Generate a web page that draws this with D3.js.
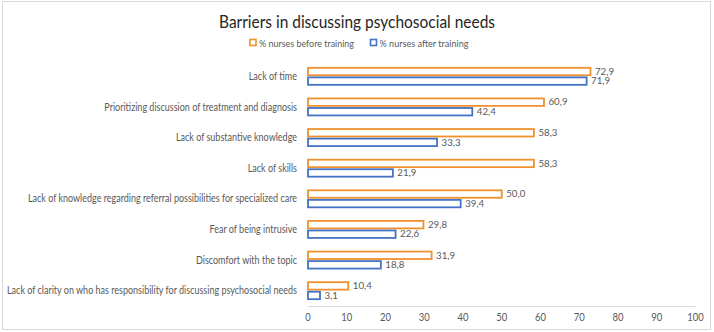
<!DOCTYPE html>
<html>
<head>
<meta charset="utf-8">
<script src="https://cdn.jsdelivr.net/npm/d3@7"></script>
<style>
  html, body { margin: 0; padding: 0; background: #fff; }
  svg { display: block; }
</style>
</head>
<body>
<svg id="chart" width="714" height="332"></svg>
<script>
const categories = [
  "Lack of time",
  "Prioritizing discussion of treatment and diagnosis",
  "Lack of substantive knowledge",
  "Lack of skills",
  "Lack of knowledge regarding referral possibilities for specialized care",
  "Fear of being intrusive",
  "Discomfort with the topic",
  "Lack of clarity on who has responsibility for discussing psychosocial needs"
];
const seriesNames = ["% nurses before training", "% nurses after training"];
const beforeValues = [72.9, 60.9, 58.3, 58.3, 50.0, 29.8, 31.9, 10.4];
const afterValues  = [71.9, 42.4, 33.3, 21.9, 39.4, 22.6, 18.8, 3.1];
const xTicks = [0, 10, 20, 30, 40, 50, 60, 70, 80, 90, 100];
const titleText = "Barriers in discussing psychosocial needs";

const colors = ["#F0912F", "#4472C4"];
const font = "Lato, 'Open Sans', sans-serif";
const textColor = "#595959";

const svg = d3.select("#chart");

// condense text horizontally by a factor (emulates a narrow font)
function condense(sel, factor) {
  sel.each(function () {
    const w = this.getComputedTextLength();
    d3.select(this).attr("textLength", w * factor).attr("lengthAdjust", "spacingAndGlyphs");
  });
}

svg.append("rect").attr("x", 2.5).attr("y", 1.5).attr("width", 708).attr("height", 328)
  .attr("fill", "#fff").attr("stroke", "#d9d9d9").attr("stroke-width", 1);

const title = svg.append("text").attr("x", 357).attr("y", 28).attr("text-anchor", "middle")
  .attr("font-family", font).attr("font-size", 17.5).attr("fill", "#262626")
  .text(titleText);
condense(title, 276 / title.node().getComputedTextLength());

// legend
const legendItems = [
  {x: 249.5, name: seriesNames[0], c: colors[0], w: 95},
  {x: 370, name: seriesNames[1], c: colors[1], w: 89}
];
const lg = svg.append("g");
legendItems.forEach(d => {
  lg.append("rect").attr("x", d.x + 0.5).attr("y", 39.5).attr("width", 6).attr("height", 6)
    .attr("fill", "#fff").attr("stroke", d.c).attr("stroke-width", 1.6);
  const t = lg.append("text").attr("x", d.x + 9.5).attr("y", 46.5).attr("font-family", font)
    .attr("font-size", 10).attr("fill", textColor).text(d.name);
  condense(t, d.w / t.node().getComputedTextLength());
});

const x = d3.scaleLinear().domain([0, 100]).range([307.5, 695]);
const y = d3.scaleBand().domain(categories).range([61, 306]);
const sub = d3.scaleBand().domain([0, 1]).range([0, 17]).paddingInner(0.22);

// axis
const axis = d3.axisBottom(x).tickValues(xTicks).tickSize(0).tickPadding(8);
const ag = svg.append("g").attr("transform", "translate(0,306)").call(axis);
ag.select(".domain").attr("stroke", "#d9d9d9");
ag.selectAll("text").attr("font-family", font).attr("font-size", 10.5).attr("fill", textColor)
  .call(condense, 0.9);

const data = categories.map((c, i) => ({c, vals: [beforeValues[i], afterValues[i]]}));
const groups = svg.append("g").selectAll("g").data(data).join("g")
  .attr("transform", d => `translate(0,${y(d.c) + y.bandwidth() / 2 - 8.5})`);

groups.selectAll("rect").data(d => d.vals.map((v, k) => ({v, k}))).join("rect")
  .attr("x", x(0) + 0.5)
  .attr("y", d => sub(d.k))
  .attr("width", d => x(d.v) - x(0))
  .attr("height", sub.bandwidth())
  .attr("fill", "#fff")
  .attr("stroke", d => colors[d.k])
  .attr("stroke-width", 1.8);

groups.selectAll("text.val").data(d => d.vals.map((v, k) => ({v, k}))).join("text")
  .attr("class", "val")
  .attr("x", d => x(d.v) + 5)
  .attr("y", d => sub(d.k) + sub.bandwidth() / 2 + 3.2)
  .attr("font-family", font).attr("font-size", 9.5).attr("fill", textColor)
  .text(d => d.v.toFixed(1).replace(".", ","))
  .call(condense, 1.02);

// category labels
const labels = svg.append("g").selectAll("text").data(categories).join("text")
  .attr("x", 297).attr("y", d => y(d) + y.bandwidth() / 2 + 3.6)
  .attr("text-anchor", "end")
  .attr("font-family", font).attr("font-size", 10.5).attr("fill", textColor)
  .text(d => d);
const maxW = d3.max(labels.nodes(), n => n.getComputedTextLength());
labels.call(condense, 290 / maxW);
</script>
</body>
</html>
